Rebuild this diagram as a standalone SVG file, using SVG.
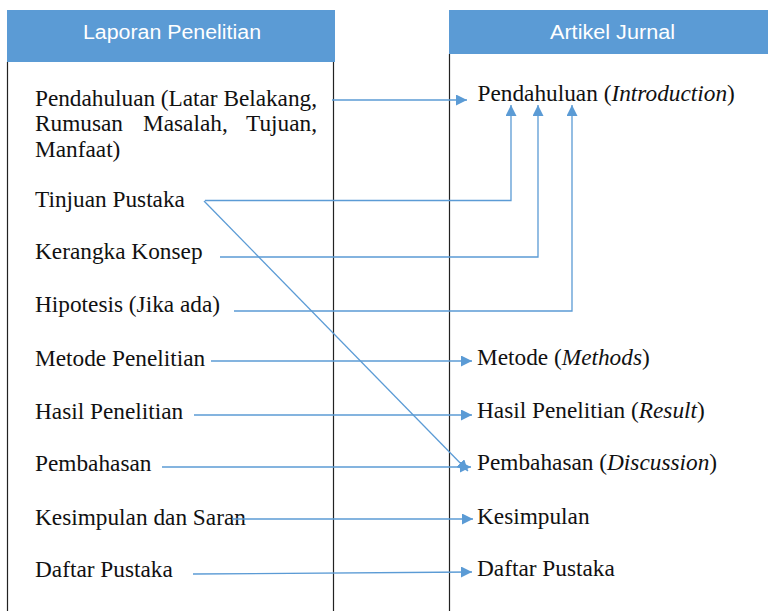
<svg xmlns="http://www.w3.org/2000/svg" width="768" height="611" viewBox="0 0 768 611">
<style>
.hdr{fill:#5B9BD5}
.ht{font-family:"Liberation Sans",Arial,sans-serif;font-size:20px;fill:#fff}
.t{font-family:"Liberation Serif","Times New Roman",serif;font-size:23.3px;fill:#111}
.i{font-style:italic}
.bd{stroke:#222;stroke-width:1.2;fill:none}
.c{stroke:#5B9BD5;stroke-width:1.3;fill:none;marker-end:url(#ah)}
</style>
<defs>
<marker id="ah" markerUnits="userSpaceOnUse" markerWidth="12" markerHeight="11" refX="11" refY="5.5" orient="auto">
<path d="M0,0 L11,5.5 L0,11 Z" fill="#5B9BD5"/>
</marker>
</defs>
<rect width="768" height="611" fill="#fff"/>
<g id="laporan">
<rect class="hdr" x="7" y="10" width="328" height="52"/>
<text class="ht" x="83" y="39" textLength="178" lengthAdjust="spacingAndGlyphs">Laporan Penelitian</text>
<path class="bd" d="M7.5,62 V611 M333.5,62 V611"/>
<text class="t" x="35" y="106" textLength="282" lengthAdjust="spacing">Pendahuluan (Latar Belakang,</text>
<text class="t" x="35" y="131">Rumusan</text>
<text class="t" x="143" y="131">Masalah,</text>
<text class="t" x="317" y="131" text-anchor="end">Tujuan,</text>
<text class="t" x="35" y="157">Manfaat)</text>
<text class="t" x="35" y="206.5">Tinjuan Pustaka</text>
<text class="t" x="35" y="259">Kerangka Konsep</text>
<text class="t" x="35" y="312">Hipotesis (Jika ada)</text>
<text class="t" x="35" y="366">Metode Penelitian</text>
<text class="t" x="35" y="419">Hasil Penelitian</text>
<text class="t" x="35" y="471">Pembahasan</text>
<text class="t" x="35" y="525">Kesimpulan dan Saran</text>
<text class="t" x="35" y="577">Daftar Pustaka</text>
</g>
<g id="artikel">
<rect class="hdr" x="449" y="10" width="319" height="44"/>
<text class="ht" x="550" y="39" textLength="125" lengthAdjust="spacingAndGlyphs">Artikel Jurnal</text>
<path class="bd" d="M449.5,54 V611"/>
<text class="t" x="477.5" y="101">Pendahuluan (<tspan class="i">Introduction</tspan>)</text>
<text class="t" x="477" y="365">Metode (<tspan class="i">Methods</tspan>)</text>
<text class="t" x="477" y="418">Hasil Penelitian (<tspan class="i">Result</tspan>)</text>
<text class="t" x="477" y="470">Pembahasan (<tspan class="i">Discussion</tspan>)</text>
<text class="t" x="477" y="524">Kesimpulan</text>
<text class="t" x="477" y="576">Daftar Pustaka</text>
</g>
<g id="connectors">
<path class="c" d="M332,100 H467"/>
<path class="c" d="M205,200.5 H511 V105"/>
<path class="c" d="M220,257 H538 V105"/>
<path class="c" d="M234,311 H572 V105"/>
<path class="c" d="M204,201 L468,471"/>
<path class="c" d="M211,361 H472"/>
<path class="c" d="M194,415 H472"/>
<path class="c" d="M162,467 H471"/>
<path class="c" d="M232,519 H473"/>
<path class="c" d="M193,574 L472,572"/>
</g>
</svg>
